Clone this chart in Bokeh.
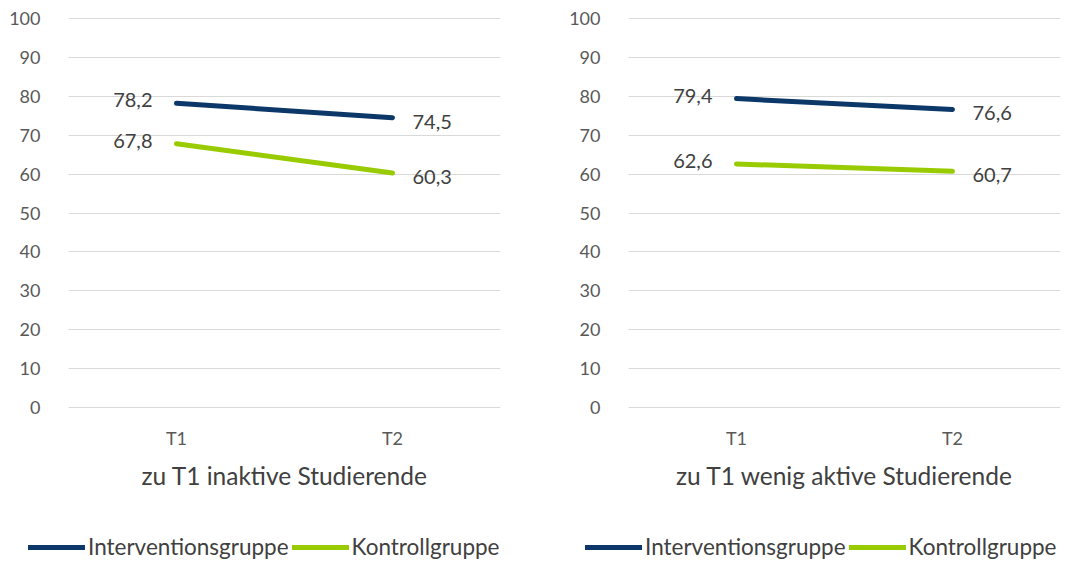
from bokeh.plotting import figure
from bokeh.models import Range1d, FixedTicker, Legend, LegendItem, ColumnDataSource
from bokeh.layouts import row, column
from bokeh.embed import file_html
from bokeh.resources import INLINE
from bokeh.core.properties import value

categories = ["T1", "T2"]
titles = ["zu T1 inaktive Studierende", "zu T1 wenig aktive Studierende"]
interv_left = [78.2, 74.5]
kontroll_left = [67.8, 60.3]
interv_right = [79.4, 76.6]
kontroll_right = [62.6, 60.7]
y_ticks = [0, 10, 20, 30, 40, 50, 60, 70, 80, 90, 100]
series_names = ["Interventionsgruppe", "Kontrollgruppe"]

BLUE = "#0b3868"
GREEN = "#99cc00"
FONT = "Lato"
TXT = "#404040"


def fmt(v):
    return f"{v:.1f}".replace(".", ",")


def make(title, interv, kontroll, left_border, width):
    p = figure(x_range=categories, y_range=Range1d(-0.5, 100.5),
               width=width, height=520, output_backend="svg", toolbar_location=None,
               min_border_left=left_border, min_border_right=width - left_border - 432,
               min_border_top=16, min_border_bottom=111)
    p.outline_line_color = None
    p.xgrid.grid_line_color = None
    p.ygrid.grid_line_color = "#d9d9d9"
    p.ygrid.grid_line_width = 1
    p.yaxis.ticker = FixedTicker(ticks=y_ticks)
    for ax in (p.xaxis[0], p.yaxis[0]):
        ax.axis_line_color = None
        ax.major_tick_line_color = None
        ax.minor_tick_line_color = None
        ax.major_label_text_font = FONT
        ax.major_label_text_color = "#595959"
    p.yaxis.major_label_text_font_size = "18px"
    p.yaxis.major_label_standoff = 22
    p.xaxis.major_label_text_font_size = "18px"
    p.xaxis.major_label_standoff = 11
    p.xaxis.axis_label = title
    p.xaxis.axis_label_text_font = FONT
    p.xaxis.axis_label_text_font_style = "normal"
    p.xaxis.axis_label_text_font_size = "24.5px"
    p.xaxis.axis_label_text_color = TXT
    p.xaxis.axis_label_standoff = 9

    for vals, col in ((interv, BLUE), (kontroll, GREEN)):
        src = ColumnDataSource(dict(x=categories, y=vals))
        p.line("x", "y", source=src, line_color=col, line_width=5, line_cap="round")
        p.text(x=[categories[0]], y=[vals[0]], text=[fmt(vals[0])], x_offset=-24, y_offset=-3,
               text_align="right", text_baseline="middle", text_font=value(FONT),
               text_font_size="20px", text_color=TXT)
        p.text(x=[categories[1]], y=[vals[1]], text=[fmt(vals[1])], x_offset=20, y_offset=4,
               text_align="left", text_baseline="middle", text_font=value(FONT),
               text_font_size="20px", text_color=TXT)
    return p


def make_legend(interv, kontroll, width, x0):
    lf = figure(x_range=categories, y_range=Range1d(0, 1), width=width, height=45,
                output_backend="svg", toolbar_location=None,
                x_axis_location=None, y_axis_location=None,
                min_border_left=0, min_border_right=0, min_border_top=0, min_border_bottom=0)
    lf.outline_line_color = None
    lf.grid.visible = False
    items = []
    for vals, col, name in ((interv, BLUE, series_names[0]), (kontroll, GREEN, series_names[1])):
        src = ColumnDataSource(dict(x=categories, y=vals))
        r = lf.line("x", "y", source=src, line_color=col, line_width=5, line_cap="round")
        items.append(LegendItem(label=name, renderers=[r]))
    leg = Legend(items=items, orientation="horizontal", location=(x0, 5),
                 glyph_width=57, glyph_height=20, label_standoff=3, spacing=3, padding=0,
                 margin=0, border_line_color=None, background_fill_alpha=0,
                 label_text_font=FONT, label_text_font_size="22.5px", label_text_color=TXT)
    lf.add_layout(leg, "center")
    return lf


p1 = make(titles[0], interv_left, kontroll_left, 68, 532)
p2 = make(titles[1], interv_right, kontroll_right, 96, 533)
l1 = make_legend(interv_left, kontroll_left, 532, 28)
l2 = make_legend(interv_right, kontroll_right, 533, 53)
p = column(row(p1, p2), row(l1, l2))
open("out.html", "w").write(file_html(p, INLINE))
